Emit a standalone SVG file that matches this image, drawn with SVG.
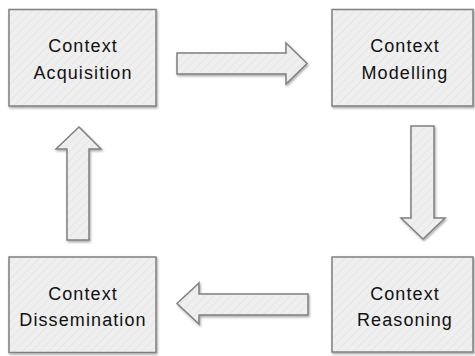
<svg xmlns="http://www.w3.org/2000/svg" width="475" height="356" viewBox="0 0 475 356">
<defs>
<pattern id="stripes" width="6" height="6" patternUnits="userSpaceOnUse" patternTransform="rotate(45)">
<rect width="6" height="6" fill="#efefef"/>
<line x1="0" y1="0" x2="0" y2="6" stroke="#e3e3e3" stroke-width="1.5"/>
</pattern>
<filter id="shadow" x="-10%" y="-10%" width="130%" height="130%">
<feDropShadow dx="1" dy="1.5" stdDeviation="1" flood-color="#000" flood-opacity="0.35"/>
</filter>
</defs>
<style>
.box{fill:url(#stripes);stroke:#808080;stroke-width:1.5;filter:url(#shadow)}
.arrow{fill:url(#stripes);stroke:#808080;stroke-width:1.5;stroke-linejoin:miter;filter:url(#shadow)}
.label{font-family:"Liberation Sans",Arial,sans-serif;font-size:18px;letter-spacing:1.1px;fill:#111111;text-anchor:middle}
</style>
<rect width="475" height="356" fill="#ffffff"/>
<g id="connectors">
<polygon class="arrow" points="177,53 286,53 286,43 307,63.5 286,84 286,74 177,74"/>
<polygon class="arrow" points="411,126 434,126 434,218 445,218 423,239 401,218 411,218"/>
<polygon class="arrow" points="308,294 199,294 199,283 177,303.5 199,324 199,315 308,315"/>
<polygon class="arrow" points="67,240 89,240 89,149 101,149 79,127 56,149 67,149"/>
</g>
<g id="node-acquisition">
<rect class="box" x="9" y="9.5" width="147" height="96.5"/>
<text class="label" x="83" y="52">Context</text>
<text class="label" x="83" y="79">Acquisition</text>
</g>
<g id="node-modelling">
<rect class="box" x="332" y="9.5" width="141" height="96.5"/>
<text class="label" x="405" y="52">Context</text>
<text class="label" x="405" y="79">Modelling</text>
</g>
<g id="node-reasoning">
<rect class="box" x="332" y="257" width="141" height="95"/>
<text class="label" x="405" y="299.5">Context</text>
<text class="label" x="405" y="326">Reasoning</text>
</g>
<g id="node-dissemination">
<rect class="box" x="9" y="257" width="147" height="95.5"/>
<text class="label" x="83" y="299.5">Context</text>
<text class="label" x="83" y="326">Dissemination</text>
</g>
</svg>
